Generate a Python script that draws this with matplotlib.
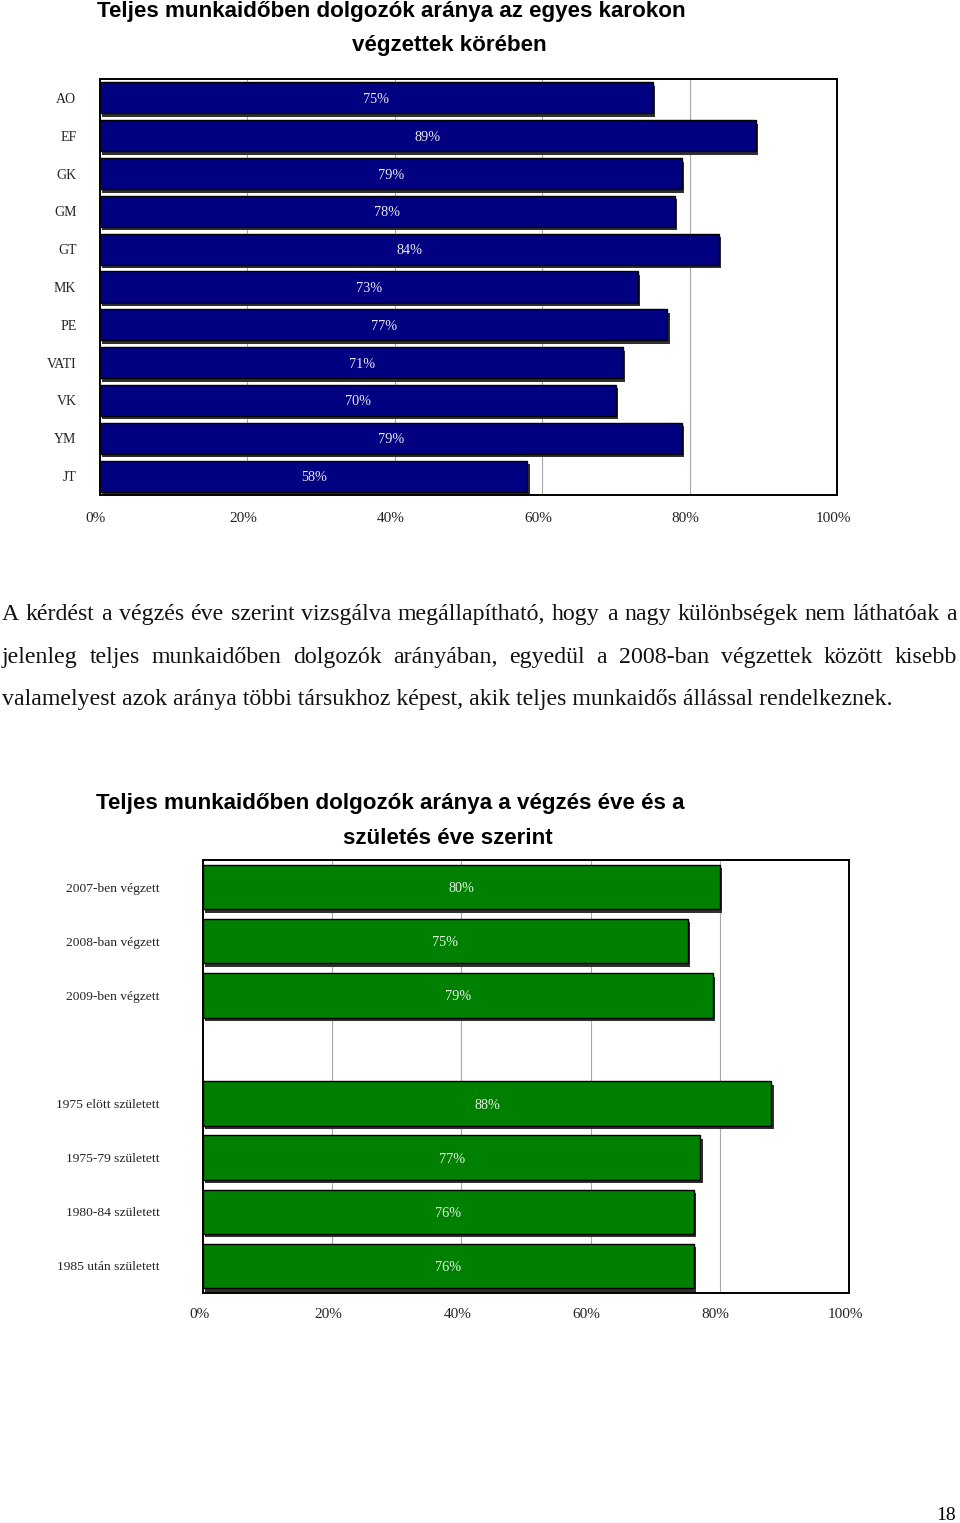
import matplotlib
matplotlib.use("Agg")
import matplotlib.pyplot as plt
import matplotlib.patheffects as pe
import matplotlib.transforms as mtransforms

# ---- data ----
faculties = ["AO", "EF", "GK", "GM", "GT", "MK", "PE", "VATI", "VK", "YM", "JT"]
faculty_share = [75, 89, 79, 78, 84, 73, 77, 71, 70, 79, 58]

groups = ["2007-ben végzett", "2008-ban végzett", "2009-ben végzett", "",
          "1975 elött született", "1975-79 született", "1980-84 született",
          "1985 után született"]
group_share = [80, 75, 79, None, 88, 77, 76, 76]

xticks = [0, 20, 40, 60, 80, 100]
xtick_labels = ["0%", "20%", "40%", "60%", "80%", "100%"]

title1 = ["Teljes munkaidőben dolgozók aránya az egyes karokon", "végzettek körében"]
title2 = ["Teljes munkaidőben dolgozók aránya a végzés éve és a", "születés éve szerint"]
paragraph = [
    "A kérdést a végzés éve szerint vizsgálva megállapítható, hogy a nagy különbségek nem láthatóak a",
    "jelenleg teljes munkaidőben dolgozók arányában, egyedül a 2008-ban végzettek között kisebb",
    "valamelyest azok aránya többi társukhoz képest, akik teljes munkaidős állással rendelkeznek.",
]
page_number = "18"

W, H = 960, 1523
SERIF = ["Liberation Serif", "DejaVu Serif"]
SANS = ["Liberation Sans", "DejaVu Sans"]
TITLE_FS = 16.1

fig = plt.figure(figsize=(W / 100, H / 100), dpi=100)
fig.patch.set_facecolor("white")


def px_axes(left, top, right, bottom):
    return fig.add_axes([left / W, 1 - bottom / H, (right - left) / W, (bottom - top) / H])


def style_axes(ax, cats, label_pad, ylab_fs, xdrop):
    ax.set_xlim(0, 100)
    ax.set_ylim(len(cats) - 0.5, -0.5)
    ax.set_xticks(xticks)
    ax.set_xticklabels([])
    # x tick labels placed at the tick values, nudged a few pixels left like the original
    off = mtransforms.ScaledTranslation(-4 / 100, -xdrop / 100, fig.dpi_scale_trans)
    for xv, lab in zip(xticks, xtick_labels):
        ax.text(xv, 0, lab, transform=ax.get_xaxis_transform() + off, ha="center",
                va="center", family=SERIF, fontsize=11, color="#222222", clip_on=False)
    ax.set_yticks(range(len(cats)))
    ax.set_yticklabels(cats, family=SERIF, fontsize=ylab_fs, color="#222222")
    ax.tick_params(axis="both", length=0)
    ax.tick_params(axis="y", pad=label_pad)
    for sp in ax.spines.values():
        sp.set_color("black")
        sp.set_linewidth(1.4)
    ax.set_axisbelow(True)
    for g in [20, 40, 60, 80]:
        ax.axvline(g, color="#a8a8a8", lw=0.8, zorder=0)


def draw_bars(ax, vals, color, textcolor, height):
    shadow = [pe.SimplePatchShadow(offset=(1.5, -2.5), shadow_rgbFace="#303030", alpha=1.0),
              pe.Normal()]
    for i, v in enumerate(vals):
        if v is None:
            continue
        bars = ax.barh(i, v, height=height, color=color, edgecolor="black", lw=1.0, zorder=2)
        for b in bars:
            b.set_path_effects(shadow)
        ax.text(v / 2, i, f"{v}%", ha="center", va="center_baseline", family=SERIF,
                fontsize=10.3, color=textcolor, zorder=3)


# ---- chart 1 ----
ax1 = px_axes(100, 79, 837, 495)
style_axes(ax1, faculties, 17, 10, 23)
draw_bars(ax1, faculty_share, "#000080", "#e8e8f4", 0.82)

fig.text(97 / W, 1 - 11 / H, title1[0], family=SANS, weight="bold", fontsize=TITLE_FS,
         ha="left", va="center")
fig.text(449.5 / W, 1 - 45 / H, title1[1], family=SANS, weight="bold", fontsize=TITLE_FS,
         ha="center", va="center")

# ---- chart 2 ----
ax2 = px_axes(203, 860, 849, 1293)
style_axes(ax2, groups, 31, 9.7, 22)
draw_bars(ax2, group_share, "#008000", "#e4f4e4", 0.82)

fig.text(96 / W, 1 - 803 / H, title2[0], family=SANS, weight="bold", fontsize=TITLE_FS,
         ha="left", va="center")
fig.text(447.5 / W, 1 - 838 / H, title2[1], family=SANS, weight="bold", fontsize=TITLE_FS,
         ha="center", va="center")

# ---- justified paragraph ----
renderer = fig.canvas.get_renderer()
probe = fig.text(0, 0, paragraph[2], family=SERIF, fontsize=15)
w = probe.get_window_extent(renderer).width
probe.remove()
fs = 15 * 895 / w

line_y = [614, 657, 699]
x_left, x_right = 2, 957
for k, line in enumerate(paragraph):
    y = 1 - line_y[k] / H
    if k == len(paragraph) - 1:
        fig.text(x_left / W, y, line, family=SERIF, fontsize=fs, ha="left", va="center",
                 color="#111111")
        continue
    words = line.split()
    texts = [fig.text(0, y, wd, family=SERIF, fontsize=fs, ha="left", va="center",
                      color="#111111") for wd in words]
    widths = [t.get_window_extent(renderer).width for t in texts]
    gap = (x_right - x_left - sum(widths)) / (len(words) - 1)
    x = x_left
    for t, wd in zip(texts, widths):
        t.set_x(x / W)
        x += wd + gap

fig.text(946 / W, 1 - 1515 / H, page_number, family=SERIF, fontsize=14, ha="center",
         va="center")

fig.savefig("out.png", dpi=100, facecolor="white")
